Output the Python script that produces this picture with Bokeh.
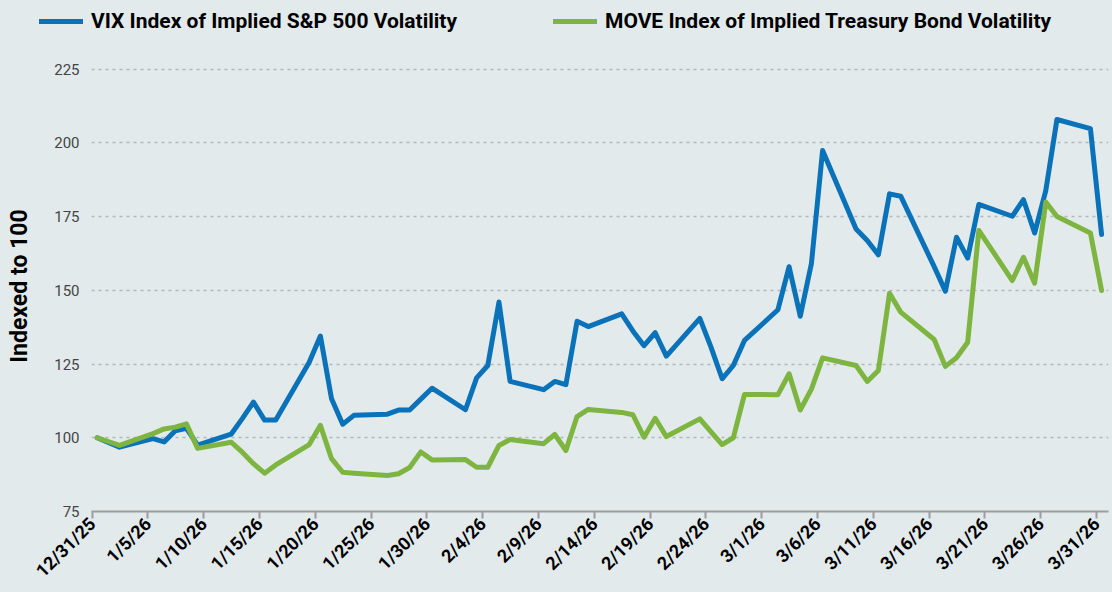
from datetime import date
import numpy as np
from bokeh.plotting import figure
from bokeh.layouts import column
from bokeh.models import FixedTicker, Legend, LegendItem, ColumnDataSource, Range1d
from bokeh.embed import file_html
from bokeh.resources import INLINE

# ---------------- data ----------------
DATES = [
    "2025-12-31", "2026-01-02", "2026-01-05", "2026-01-06", "2026-01-07", "2026-01-08", "2026-01-09",
    "2026-01-12", "2026-01-13", "2026-01-14", "2026-01-15", "2026-01-16", "2026-01-19", "2026-01-20",
    "2026-01-21", "2026-01-22", "2026-01-23", "2026-01-26", "2026-01-27", "2026-01-28", "2026-01-29",
    "2026-01-30", "2026-02-02", "2026-02-03", "2026-02-04", "2026-02-05", "2026-02-06", "2026-02-09",
    "2026-02-10", "2026-02-11", "2026-02-12", "2026-02-13", "2026-02-16", "2026-02-17", "2026-02-18",
    "2026-02-19", "2026-02-20", "2026-02-23", "2026-02-24", "2026-02-25", "2026-02-26", "2026-02-27",
    "2026-03-02", "2026-03-03", "2026-03-04", "2026-03-05", "2026-03-06", "2026-03-09", "2026-03-10",
    "2026-03-11", "2026-03-12", "2026-03-13", "2026-03-16", "2026-03-17", "2026-03-18", "2026-03-19",
    "2026-03-20", "2026-03-23", "2026-03-24", "2026-03-25", "2026-03-26", "2026-03-27", "2026-03-30",
    "2026-03-31",
]

VIX = [
    100.0, 96.8, 99.7, 98.6, 102.4, 103.2, 97.5,
    101.2, 106.5, 112.1, 106.0, 106.0, 125.6, 134.5,
    113.2, 104.6, 107.6, 108.0, 109.4, 109.4, 113.1,
    116.8, 109.5, 120.3, 124.5, 146.0, 119.1, 116.3,
    119.1, 118.0, 139.5, 137.7, 142.0, 136.2, 131.2,
    135.6, 127.7, 140.5, 130.7, 120.0, 124.5, 133.0,
    143.4, 158.0, 141.2, 159.1, 197.4, 170.8, 166.9,
    162.0, 182.7, 181.9, 158.0, 149.7, 168.0, 160.9,
    179.1, 175.1, 180.7, 169.4, 183.8, 207.9, 204.8,
    168.9,
]

MOVE = [
    100.0, 97.4, 101.4, 103.0, 103.6, 104.7, 96.4,
    98.5, 95.1, 91.2, 88.0, 90.8, 97.7, 104.2,
    92.9, 88.3, 88.0, 87.2, 87.8, 89.9, 95.2,
    92.5, 92.6, 90.0, 90.0, 97.4, 99.4, 98.0,
    101.1, 95.7, 107.2, 109.6, 108.6, 107.8, 100.2,
    106.6, 100.4, 106.4, 102.0, 97.7, 100.0, 114.7,
    114.6, 121.7, 109.4, 116.5, 127.1, 124.5, 119.1,
    122.8, 149.0, 142.6, 133.3, 124.2, 127.1, 132.4,
    170.3, 153.3, 161.2, 152.4, 179.9, 175.0, 169.4,
    149.9,
]

TICK_LABELS = [
    "12/31/25", "1/5/26", "1/10/26", "1/15/26", "1/20/26", "1/25/26", "1/30/26",
    "2/4/26", "2/9/26", "2/14/26", "2/19/26", "2/24/26", "3/1/26", "3/6/26",
    "3/11/26", "3/16/26", "3/21/26", "3/26/26", "3/31/26",
]
Y_TICKS = [75, 100, 125, 150, 175, 200, 225]
SERIES = ["VIX Index of Implied S&P 500 Volatility", "MOVE Index of Implied Treasury Bond Volatility"]

# ---------------- style ----------------
BG = "#e3eaec"
BLUE = "#0a72b9"
GREEN = "#7db540"
FONT = "Roboto"
START = date(2025, 12, 31)
SHIFT = 0.45  # points drawn mid-day

days = [(date.fromisoformat(d) - START).days + SHIFT for d in DATES]
src = ColumnDataSource(dict(x=days, vix=VIX, move=MOVE))

# ---------------- main chart ----------------
p = figure(width=1112, height=532, output_backend="svg", toolbar_location=None,
           x_range=Range1d(-0.06, 91.07), y_range=Range1d(75, 227.9),
           min_border_left=91, min_border_right=4, min_border_top=0, min_border_bottom=81,
           background_fill_color=BG, border_fill_color=BG, outline_line_color=None,
           frame_align=False)

r1 = p.line("x", "vix", source=src, line_color=BLUE, line_width=5, line_join="round", line_cap="round")
r2 = p.line("x", "move", source=src, line_color=GREEN, line_width=5, line_join="round", line_cap="round")

# y axis
p.yaxis.ticker = FixedTicker(ticks=Y_TICKS)
p.yaxis.axis_line_color = None
p.yaxis.major_tick_line_color = None
p.yaxis.minor_tick_line_color = None
p.yaxis.major_label_text_font = FONT
p.yaxis.major_label_text_font_size = "15px"
p.yaxis.major_label_text_color = "#444444"
p.yaxis.major_label_standoff = 6
p.yaxis.axis_label = "Indexed to 100"
p.yaxis.axis_label_text_font = FONT
p.yaxis.axis_label_text_font_size = "23px"
p.yaxis.axis_label_text_font_style = "bold"
p.yaxis.axis_label_text_color = "#000000"
p.yaxis.axis_label_standoff = 18

# x axis
tick_pos = [5 * i for i in range(len(TICK_LABELS))]
p.xaxis.ticker = FixedTicker(ticks=tick_pos)
p.xaxis.major_label_overrides = {t: lab for t, lab in zip(tick_pos, TICK_LABELS)}
p.xaxis.major_label_orientation = np.pi / 4
p.xaxis.major_label_text_font = FONT
p.xaxis.major_label_text_font_size = "18px"
p.xaxis.major_label_text_font_style = "bold"
p.xaxis.major_label_text_color = "#000000"
p.xaxis.axis_line_color = "#9c9c9c"
p.xaxis.axis_line_width = 2
p.xaxis.major_tick_line_color = "#9c9c9c"
p.xaxis.major_tick_line_width = 2
p.xaxis.major_tick_out = 7
p.xaxis.major_tick_in = 0
p.xaxis.minor_tick_line_color = None
p.xaxis.major_label_standoff = 2

# grid
p.xgrid.visible = False
p.ygrid.grid_line_color = "#b2b8ba"
p.ygrid.grid_line_dash = "3 4"
p.ygrid.grid_line_width = 1.5

# ---------------- legend strip ----------------
leg = figure(width=1112, height=60, output_backend="svg", toolbar_location=None,
             x_axis_type=None, y_axis_type=None, x_range=Range1d(0, 1), y_range=Range1d(0, 1),
             min_border=0, background_fill_color=BG, border_fill_color=BG, outline_line_color=None,
             frame_align=False)
leg.xgrid.visible = False
leg.ygrid.visible = False
# same series, out of view in this strip: only their legend glyphs show
l1 = leg.line("x", "vix", source=src, line_color=BLUE, line_width=5, line_cap="round")
l2 = leg.line("x", "move", source=src, line_color=GREEN, line_width=5, line_cap="round")


def make_legend(label, rend, loc):
    return Legend(items=[LegendItem(label=label, renderers=[rend])],
                  location=loc, orientation="horizontal",
                  glyph_width=44, glyph_height=24, label_standoff=8, padding=0, margin=0,
                  background_fill_alpha=0, border_line_alpha=0,
                  label_text_font=FONT, label_text_font_size="21px", label_text_font_style="bold",
                  label_text_color="#000000")


leg.add_layout(make_legend(SERIES[0], l1, (39, 27)))
leg.add_layout(make_legend(SERIES[1], l2, (553, 27)))

layout = column(leg, p, spacing=0, styles={"background-color": BG})

open("out.html", "w").write(file_html(layout, INLINE))
